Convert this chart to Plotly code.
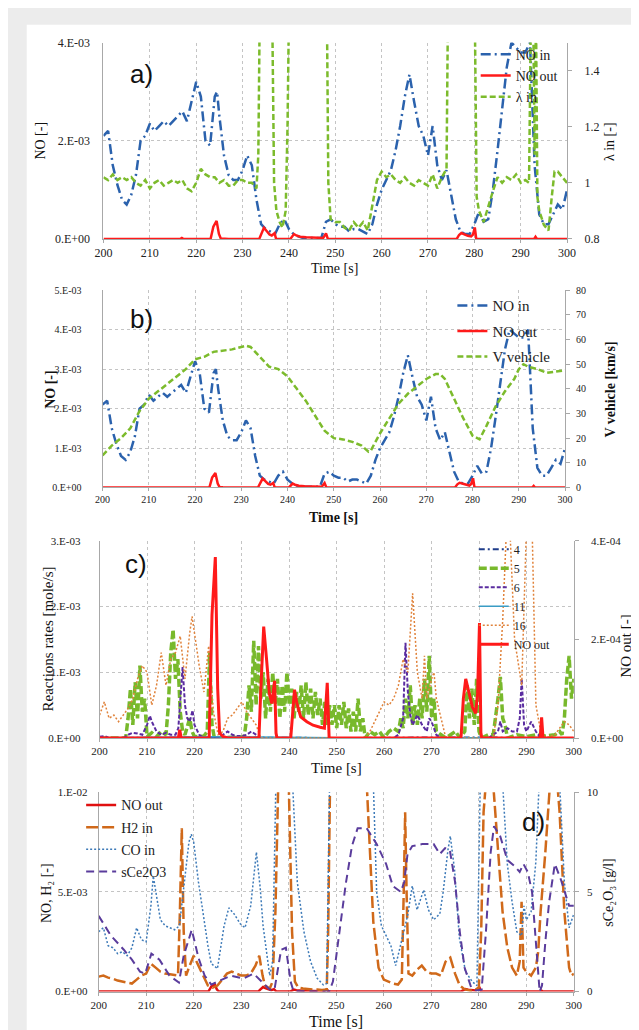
import numpy as np
import plotly.graph_objects as go

W, H = 639, 1030
def px(x): return x / W
def py(y): return 1 - y / H

# ---------------- DATA ----------------
# NO in (units 1e-3)
t_no_in = [200,201,202,203,204,205,206,207,208,209,210,211,212,213,214,215,216,217,218,219,220,221,222,223,224,224.5,225,226,227,228,229,230,231,232,233,234,235,236,237,238,239,240,241,242,243,244,245,246,247,248,249,250,251,252,253,254,255,256,257,258,259,260,261,262,263,264,265,266,267,268,269,270,271,272,273,274,275,276,277,278,279,280,281,282,283,284,285,286,287,288,289,290,291,292,293,294,295,296,297,298,299,300]
no_in = [2.1,2.2,1.5,1.1,0.8,0.7,0.9,1.3,2.0,2.1,2.35,2.2,2.3,2.4,2.3,2.4,2.5,2.6,2.4,2.8,3.2,2.9,2.0,1.9,2.9,3.0,2.5,1.7,1.3,1.2,1.2,1.4,1.7,1.5,0.8,0.3,0.2,0.15,0.1,0.3,0.4,0.2,0.1,0.05,0.02,0.02,0.02,0.02,0.02,0.35,0.4,0.3,0.25,0.25,0.15,0.2,0.2,0.15,0.1,0.3,0.7,1.0,1.2,1.4,1.8,2.3,2.9,3.35,2.8,2.3,2.1,1.7,2.3,1.5,1.2,1.4,0.9,0.4,0.15,0.1,0.1,0.3,0.55,0.35,0.4,1.0,1.8,2.7,3.5,4.0,3.9,3.8,3.8,4.0,1.5,0.5,0.3,0.3,0.5,0.7,0.6,1.0]

# NO out (units 1e-4)
t_no_out = [200,216.6,216.9,217.2,223.1,223.7,224.4,224.9,225.3,226,227,233.6,234.0,234.6,235.2,235.8,236.3,236.9,237.2,237.4,240.3,240.7,241.1,241.6,242.4,243.7,245,246.5,247.4,248.0,248.4,276.2,276.7,277.2,277.8,278.6,279.3,279.7,280.1,280.4,280.6,292.9,293.2,293.5,300]
no_out = [0,0,0.17,0,0,2.5,3.67,1.0,0.1,0.03,0,0,1.0,2.26,1.6,0.9,0.7,1.16,0.1,0,0,0.6,0.98,0.7,0.43,0.33,0.26,0.22,0.2,1.12,0,0,0.8,1.2,0.95,0.63,0.5,0.9,2.33,0.1,0,0,0.42,0,0]

# lambda in [-]
t_lambda = [200,201,202,203,204,205,206,207,208,209,210,211,212,213,214,215,216,217,218,219,220,221,222,223,224,225,226,227,228,229,230,231,232,233,233.4,233.7,236.4,236.8,237.3,238,238.6,239.3,239.7,240,248.2,248.5,249,250,251,252,253,254,255,256,257,258,259,260,261,262,263,264,265,266,267,268,269,270,271,272,273,274,274.3,280.1,280.5,281,282,283,284,285,286,287,288,289,290,291,291.8,292.2,292.7,293.0,293.3,293.6,294,295,296,296.7,297.3,298,299,300]
lambda_in = [1.02,1.01,1.03,1.01,1.02,1.01,1.02,1.00,0.99,1.01,0.98,1.00,1.01,0.99,1.00,1.01,1.00,1.01,0.98,0.97,1.00,1.05,1.03,1.02,1.02,1.00,1.01,0.99,0.99,1.01,1.01,1.00,1.00,0.98,1.1,1.6,1.6,1.0,0.9,0.86,0.84,0.9,1.2,1.6,1.6,1.0,0.87,0.86,0.86,0.84,0.83,0.86,0.84,0.86,0.83,0.92,1.01,1.04,1.02,1.03,1.01,1.0,1.02,1.0,0.99,1.01,1.0,0.99,1.03,0.98,1.02,1.05,1.6,1.6,0.95,0.9,0.86,0.92,0.97,1.02,1.0,1.02,1.01,1.03,1.0,1.01,1.0,1.6,1.6,1.1,1.6,0.95,0.9,0.85,0.83,0.95,1.04,1.04,1.02,1.0]

# vehicle speed [km/s]
t_speed = [200,202,204,206,208,210,212,214,216,218,220,222,224,226,228,230,231,232,234,236,238,240,242,244,246,248,250,252,254,256,257.5,258,260,262,264,266,268,270,272,273,274,276,278,280,281.5,283,285,287,289,290,291,292,294,296,298,300]
v_vehicle = [13,17,20,24,31,36,39,42,45,48,52,53,55,55.5,56,57,57.5,57,53,49,48,45,40,35,29,23,20,19.5,18.5,17,14.5,15,22,28,34,38,41,44,46,46,44,36,28,21,19.5,25,33,39,44,48,50,49,48,46.5,47,47.5]

# reaction rates (units 1e-3 mole/s)
t_r4 = [200,225,250,275,300]
r4 = [0.0,0.01,0.0,0.01,0.0]
t_r11 = [200,224,250,275,300]
r11 = [0.005,0.02,0.005,0.01,0.005]
t_r5 = [200,205.5,206,206.5,207,207.5,208,208.5,209,209.5,210,211,212,213,214,214.5,215,215.5,216,216.5,217,217.5,218,219,219.5,220,222,222.7,223.2,223.7,224.2,230.5,231,231.5,232,232.5,233,233.5,234,234.5,235,235.5,236,236.5,237,237.5,238,238.5,239,239.5,240,240.5,241,241.5,242,242.5,243,243.5,244,244.5,245,245.5,246,246.5,247,247.5,248,248.5,249,249.5,250,250.5,251,251.5,252,252.5,253,253.5,254,254.5,255,255.5,256,257,258,259,260,261,262,263,263.5,264,264.5,265,265.5,266,266.5,267,267.5,268,268.5,269,269.5,270,270.5,271,272,273,274,275,276,277,277.5,278,278.5,279,279.5,280,280.5,282,283,283.5,284,284.5,285,285.5,286,288,290,292,294,296,297,297.5,298,298.5,299,299.5,300]
r5 = [0,0,0.3,0.75,0.2,0.85,0.3,1.1,0.4,0.6,0.02,0.08,0.02,0.1,0.05,0.5,1.3,1.65,0.9,1.2,0.4,0.1,0.05,0.3,0.1,0.02,0.03,0.1,1.3,0.2,0.0,0.02,0.3,0.8,0.4,1.48,0.5,1.4,0.6,1.0,0.3,0.9,0.4,1.0,0.5,0.9,0.3,0.8,0.4,1.0,0.5,0.75,0.3,0.7,0.4,0.8,0.3,0.85,0.35,0.75,0.3,0.7,0.35,0.6,0.2,0.55,0.2,0.5,0.2,0.5,0.15,0.5,0.2,0.55,0.15,0.45,0.1,0.4,0.1,0.6,0.1,0.3,0.0,0.1,0.05,0.1,0.0,0.1,0.15,0.1,0.3,0.15,0.6,0.3,0.8,0.2,0.5,0.2,0.6,0.3,0.9,0.4,1.25,0.3,0.6,0.1,0.05,0.0,0.05,0.1,0.0,0.1,0.8,0.3,0.75,0.2,0.9,0.1,0.0,0.05,0.05,0.3,0.6,0.93,0.3,0.2,0.0,0.05,0.02,0.05,0.03,0.05,0.1,0.05,0.3,0.9,1.25,0.6,0.9]
t_r6 = [200,201,202,205,206,207,208,209,210,210.6,211,212,213,214,215,216,216.6,217.2,217.5,218,218.5,219,219.6,220,221,222,225,226,227,228,229,230,231,232,233,234,262,263,264,264.5,265,265.5,266,267,268,269,269.5,270,271,272,282,283,284,284.5,285,286,287,288,288.6,289,289.5,290,291,292,293,300]
r6 = [0.02,0.03,0.0,0.0,0.05,0.08,0.07,0.05,0.2,0.34,0.25,0.1,0.05,0.08,0.05,0.05,0.15,0.7,1.08,0.5,0.3,0.25,0.42,0.2,0.05,0.0,0.0,0.05,0.1,0.05,0.03,0.03,0.05,0.1,0.05,0.0,0.0,0.05,0.3,1.45,0.7,0.35,0.2,0.35,0.2,0.1,0.3,0.25,0.05,0.0,0.0,0.05,0.1,0.25,0.1,0.15,0.1,0.1,0.3,0.9,0.2,0.1,0.25,0.1,0.0,0.0]
t_r16 = [200,201,202,203,204,205,206,207,208,209,210,211,212,213,214,215,216,217,218,219,219.5,220,221,222,223,224,225,226,227,228,229,230,231,232,233,234,256,257,258,259,260,261,262,263,264,265,266,267,268,268.5,269,270,270.5,271,272,273,283,284,285,285.8,286.5,287.5,289,290,291.2,292,293,294,296,297,298,299,300]
r16 = [0.35,0.55,0.3,0.35,0.25,0.35,0.45,0.6,0.9,1.1,1.0,0.5,0.8,1.3,0.8,1.2,1.3,1.55,0.9,1.6,1.85,1.6,1.1,0.7,1.4,0.4,0.05,0.1,0.3,0.35,0.45,0.55,0.4,0.3,0.2,0.0,0.0,0.1,0.25,0.4,0.55,0.5,0.6,0.8,1.2,1.0,2.2,1.0,0.6,1.25,0.6,0.9,1.0,0.6,0.3,0.0,0.0,0.5,1.8,3.2,3.2,1.5,0.8,3.2,3.2,0.5,0.1,0.0,0.05,0.15,0.25,0.2,0.1]

# H2 in, CO in (units 1e-3)
t_h2 = [200,201,202,203,204,205,206,207,208,209,210,211,212,213,214,215,216,216.7,217.1,217.5,217.9,218.4,219,220,221,222,223,224,225,226,227,228,229,230,231,232,233,233.8,234.5,235,236,236.6,237.2,237.8,240.0,240.7,241.3,242,243,244,245,246,247,248,248.3,248.7,256.4,257,257.8,258.9,260,261,262,263,263.8,264.2,264.5,264.8,265.2,266,267,268,269,270,271,272,273,274,275,276,277,278,279,280,280.5,281,281.5,283,284,285,286,287,288,288.6,289,289.4,290,291,292,292.5,293,294,295,296.5,297,298,299,299.5,300]
h2_in = [0.75,0.8,0.7,0.65,0.55,0.5,0.45,0.4,0.6,0.8,0.9,1.4,1.2,1.0,0.9,0.85,0.8,0.8,4.0,8.2,3.0,0.8,1.2,1.8,1.3,0.8,0.3,0.2,0.3,0.6,0.9,1.0,0.9,0.8,0.8,0.9,1.3,1.8,0.8,0.3,0.15,0.5,4,10.5,10.5,3,0.5,0.2,0.15,0.12,0.1,0.1,0.08,0.1,3,10.5,10.5,7.5,3.5,1.2,0.6,0.5,0.4,0.35,0.6,5,9.0,5,0.9,0.8,1.1,1.3,1.0,0.9,0.9,0.8,1.5,1.7,0.9,0.3,0.12,0.05,0.05,0.2,3,9,10.5,10.5,7,4,2.2,1.2,0.8,1.5,4.5,1.2,1.0,0.8,1.2,2.0,4,7,10.5,10.5,9,4,1.2,0.8,0.9]
t_co = [200,201,202,203,204,205,206,207,208,209,210,211,211.5,212,213,214,215,216,217,218,219,219.5,220,221,222,223,223.7,225,226.4,227.4,228.5,229.8,230.8,232,233.2,234,234.6,236,236.6,237.3,240.8,241.8,243.2,244.6,246,247.3,248,248.6,257.8,258.5,259.5,261.5,262.5,263.9,265,266,267,268.4,269.4,270.5,271.8,272.5,273.5,274,274.9,275.9,277.2,278.6,279.6,280.3,285,286,287,288,289,289.5,290,291,292,292.7,297,298,299,300]
co_in = [3.0,3.2,2.3,2.2,1.9,2.0,1.8,2.2,3.2,2.6,2.5,4.3,5.8,5.0,3.6,3.3,3.2,3.1,3.3,5.5,7.5,7.9,7.5,5.5,3.8,2.3,1.4,1.15,3.3,4.2,3.9,3.4,3.2,4.3,7.0,5.2,3.3,0.8,1.5,10.5,10.5,5.5,3.0,1.5,0.66,0.33,0.4,10.5,10.5,5,3.3,2.3,1.3,2.7,3.8,5.3,4.1,5.1,4.1,3.6,3.9,5.0,7.1,7.8,6.1,2.7,1.0,0.5,0.3,10.5,10.5,6.4,4.5,3.0,2.8,4.3,3.6,4.0,6.5,10.5,10.5,5.5,3.2,3.9]

# sCe2O3 [g/l]
t_ce = [200,200.5,202.6,205.3,207,208.7,209.8,211.1,212.8,214.9,216.9,217.9,219.6,221,222.3,223.7,225.8,227.8,230.5,232.6,234.3,236,237,238.4,239.4,240.4,241,248.5,249.3,250.6,252,253.3,254.5,256.4,258.5,260.5,261.9,263.6,264.3,265,266,268.1,269.4,270.5,271.8,272.9,273.9,275,276,277,278.4,279.5,280.6,281.5,282.5,283.2,284.5,286,287.5,288.6,289.4,290.3,291.2,292,292.8,293.3,294,294.8,296,297.3,299,300]
sce2o3 = [3.8,3.6,2.8,2.1,1.6,1.0,0.9,1.9,1.6,0.8,0.45,1.8,3.1,1.7,0.8,0.35,0.6,0.8,0.65,0.9,0.5,0.1,0.1,2.1,2.2,0.5,0.02,0.0,0.5,3.0,5.4,7.3,8.2,8.2,7.4,6.4,5.3,5.0,5.5,6.9,7.3,7.4,7.4,7.4,6.9,7.2,7.1,5.5,3.0,1.2,0.2,0.05,0.1,3.0,7.0,8.3,7.8,6.6,6.3,6.0,6.4,6.0,5.0,2.5,0.0,0.3,2.5,4.5,6.4,5.6,4.3,4.3]

# tick labels
x_ticks = [200,210,220,230,240,250,260,270,280,290,300]
a_left_vals = [0,2e-3,4e-3]; a_left_text = ["0.E+00","2.E-03","4.E-03"]
a_right_vals = [0.8,1.0,1.2,1.4]; a_right_text = ["0.8","1","1.2","1.4"]
b_left_vals = [0,1e-3,2e-3,3e-3,4e-3,5e-3]; b_left_text = ["0.E+00","1.E-03","2.E-03","3.E-03","4.E-03","5.E-03"]
b_right_vals = [0,10,20,30,40,50,60,70,80]
c_left_vals = [0,1e-3,2e-3,3e-3]; c_left_text = ["0.E+00","1.E-03","2.E-03","3.E-03"]
c_right_vals = [0,2e-4,4e-4]; c_right_text = ["0.E+00","2.E-04","4.E-04"]
d_left_vals = [0,5e-3,1e-2]; d_left_text = ["0.E+00","5.E-03","1.E-02"]
d_right_vals = [0,5,10]

# ---------------- STYLE ----------------
SERIF = "Liberation Serif, Times New Roman, serif"
SANS = "Liberation Sans, Arial, sans-serif"
BLUE = "#2b62ad"; RED = "#ff1a1a"; GREEN = "#7cbb2c"
GRID = "#c4c4c4"; AX = "#a8a8a8"; TXT = "#222222"

e3 = lambda v: np.array(v) * 1e-3
e4 = lambda v: np.array(v) * 1e-4

fig = go.Figure()

def tr(x, y, xa, ya, name, color, width, dash, leg, grp):
    fig.add_trace(go.Scatter(x=x, y=y, xaxis=xa, yaxis=ya, mode="lines", name=name,
                             line=dict(color=color, width=width, dash=dash),
                             legend=leg, legendgroup=grp, hoverinfo="skip"))

# panel a
tr(t_no_in, e3(no_in), "x", "y", "NO in", BLUE, 2.5, "10px,4px,2px,4px", "legend", "a1")
tr(t_no_out, e4(no_out), "x", "y", "NO out", RED, 2.5, "solid", "legend", "a2")
tr(t_lambda, lambda_in, "x", "y2", "λ in", GREEN, 2.5, "6px,3px", "legend", "a3")
# panel b
tr(t_no_in, e3(no_in), "x2", "y3", "NO in", BLUE, 2.5, "10px,4px,2px,4px", "legend2", "b1")
tr(t_no_out, e4(no_out), "x2", "y3", "NO out", RED, 2.5, "solid", "legend2", "b2")
tr(t_speed, v_vehicle, "x2", "y4", "V vehicle", GREEN, 2.5, "6px,3px", "legend2", "b3")
# panel c
tr(t_r4, e3(r4), "x3", "y5", "4", "#1f3d8a", 2, "6px,3px,2px,3px", "legend3", "c1")
tr(t_r5, e3(r5), "x3", "y5", "5", "#78b92c", 3.5, "8px,3px", "legend3", "c2")
tr(t_r6, e3(r6), "x3", "y5", "6", "#5a2ca0", 2, "4px,2px", "legend3", "c3")
tr(t_r11, e3(r11), "x3", "y5", "11", "#3a9cc4", 1.5, "solid", "legend3", "c4")
tr(t_r16, e3(r16), "x3", "y5", "16", "#e0823a", 1.5, "2px,2px", "legend3", "c5")
tr(t_no_out, e4(no_out), "x3", "y6", "NO out", RED, 3, "solid", "legend3", "c6")
# panel d
tr(t_no_out, e4(no_out), "x4", "y7", "NO out", "#e01010", 2.5, "solid", "legend4", "d1")
tr(t_h2, e3(h2_in), "x4", "y7", "H2 in", "#d0691a", 2.5, "12px,4px", "legend4", "d2")
tr(t_co, e3(co_in), "x4", "y7", "CO in", "#3d7ab8", 1.5, "2px,2px", "legend4", "d3")
tr(t_ce, sce2o3, "x4", "y8", "sCe2O3", "#5a3c9c", 2, "8px,5px", "legend4", "d4")

panels = {
    "a": dict(x=(89, 566), y=(28, 227)),
    "b": dict(x=(88, 564), y=(279, 479)),
    "c": dict(x=(85, 573), y=(533, 733)),
    "d": dict(x=(84, 573), y=(788, 990)),
}

def xax(p, anchor, fs):
    x0, x1 = panels[p]["x"]
    return dict(domain=[px(x0), px(x1)], anchor=anchor, range=[200, 300],
                tickvals=x_ticks, showgrid=True, gridcolor=GRID, griddash="dot",
                showline=True, linecolor=AX, linewidth=1, ticks="outside", ticklen=3,
                tickcolor=AX, tickfont=dict(family=SERIF, size=fs, color=TXT), zeroline=False)

def yleft(p, anchor, rng, vals, text, fs, standoff):
    y0, y1 = panels[p]["y"]
    return dict(domain=[py(y1), py(y0)], anchor=anchor, range=rng, tickvals=vals, ticktext=text,
                showgrid=True, gridcolor=GRID, griddash="dot", showline=True, linecolor=AX,
                ticks="", tickfont=dict(family=SERIF, size=fs, color=TXT), zeroline=False,
                ticklabelstandoff=standoff)

def yright(over, anchor, rng, vals, text, fs, standoff):
    d = dict(overlaying=over, side="right", anchor=anchor, range=rng, tickvals=vals,
             showgrid=False, showline=True, linecolor=AX, ticks="outside", ticklen=4, tickcolor=AX,
             tickfont=dict(family=SERIF, size=fs, color=TXT), zeroline=False,
             ticklabelstandoff=standoff)
    if text is not None:
        d["ticktext"] = text
    return d

def legend(x, y, fs, gap):
    return dict(x=px(x), y=py(y), xanchor="left", yanchor="top", bgcolor="rgba(0,0,0,0)",
                font=dict(family=SERIF, size=fs, color=TXT), itemwidth=30,
                traceorder="grouped", tracegroupgap=gap)

fig.update_layout(
    width=W, height=H, margin=dict(l=0, r=0, t=0, b=0),
    paper_bgcolor="#ececec", plot_bgcolor="white", showlegend=True,
    xaxis=xax("a", "y", 12), xaxis2=xax("b", "y3", 10), xaxis3=xax("c", "y5", 11), xaxis4=xax("d", "y7", 11),
    yaxis=yleft("a", "x", [0, 4e-3], a_left_vals, a_left_text, 12, 10),
    yaxis2=yright("y", "x", [0.8, 1.5], a_right_vals, a_right_text, 12, 10),
    yaxis3=yleft("b", "x2", [0, 5e-3], b_left_vals, b_left_text, 10, 18),
    yaxis4=yright("y3", "x2", [0, 80], b_right_vals, None, 10, 4),
    yaxis5=yleft("c", "x3", [0, 3e-3], c_left_vals, c_left_text, 11, 16),
    yaxis6=yright("y5", "x3", [0, 4e-4], c_right_vals, c_right_text, 11, 10),
    yaxis7=yleft("d", "x4", [0, 1e-2], d_left_vals, d_left_text, 11, 8),
    yaxis8=yright("y7", "x4", [0, 10], d_right_vals, None, 11, 6),
    legend=legend(472, 24, 14, 0),
    legend2=legend(448, 278, 15, 3),
    legend3=legend(470, 527, 12, 0),
    legend4=legend(66, 785, 14, 1),
    shapes=[dict(type="rect", xref="paper", yref="paper", x0=px(10), x1=px(636), y0=0, y1=py(10),
                 fillcolor="white", line=dict(width=0), layer="below")],
)

ann = []
def text(x, y, s, size, family=SERIF, angle=0, bold=False):
    ann.append(dict(x=px(x), y=py(y), xref="paper", yref="paper", text=s, showarrow=False,
                    textangle=angle,
                    font=dict(family=family, size=size, color="#111111",
                              weight="bold" if bold else "normal"),
                    xanchor="center", yanchor="middle"))

# panel labels
text(128, 60, "a)", 26, SANS)
text(128, 308, "b)", 26, SANS)
text(122, 557, "c)", 26, SANS)
text(531, 818, "d)", 26, SANS)
# x titles
text(327, 257, "Time [s]", 14)
text(326, 509, "Time [s]", 14, bold=True)
text(329, 763, "Time [s]", 15)
text(328, 1020, "Time [s]", 16)
# left titles
text(24, 127, "NO [-]", 14, angle=-90)
text(35, 380, "NO [-]", 14, angle=-90, bold=True)
text(32, 633, "Reactions rates [mole/s]", 15, angle=-90)
text(31, 890, "NO, H₂ [-]", 14, angle=-90)
# right titles
text(609, 128, "λ in [-]", 14, angle=-90)
text(611, 380, "V vehicle [km/s]", 14, angle=-90, bold=True)
text(627, 640, "NO out [-]", 15, angle=-90)
text(609, 890, "sCe₂O₃ [g/l]", 14, angle=-90)
fig.update_layout(annotations=ann)

fig.write_html("out.html")
